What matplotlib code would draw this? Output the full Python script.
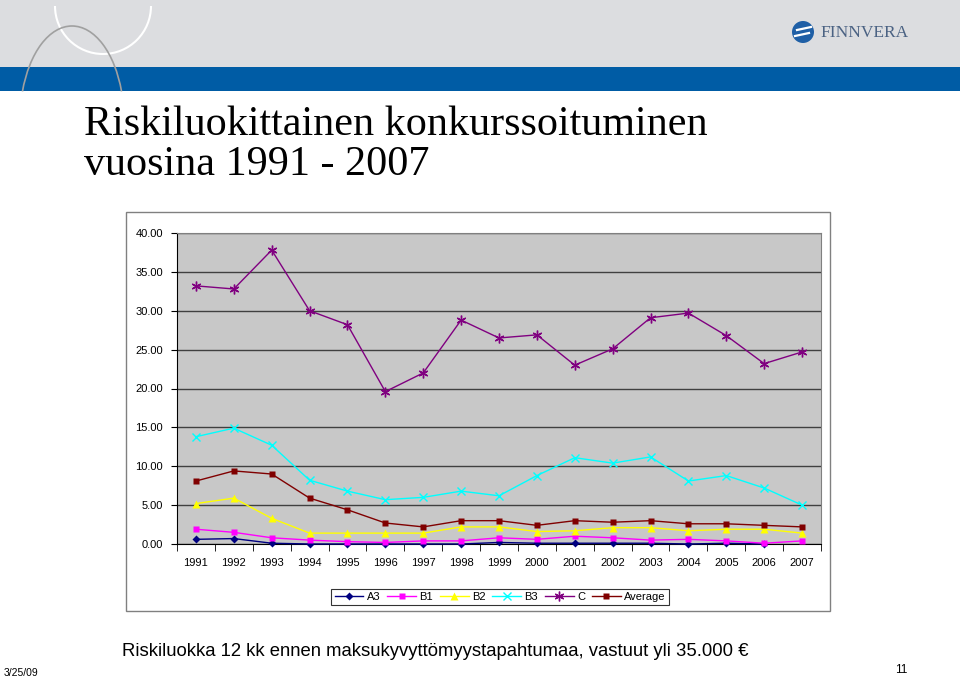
import matplotlib

matplotlib.use("Agg")
import matplotlib.pyplot as plt
import numpy as np
from matplotlib.patches import Arc, Circle, Rectangle

years = [str(y) for y in range(1991, 2008)]
a3 = [0.6, 0.7, 0.1, 0.0, 0.0, 0.0, 0.0, 0.0, 0.2, 0.1, 0.1, 0.1, 0.1, 0.0, 0.1, 0.0, np.nan]
b1 = [1.9, 1.5, 0.8, 0.5, 0.3, 0.2, 0.4, 0.4, 0.8, 0.6, 1.0, 0.8, 0.5, 0.6, 0.4, 0.1, 0.4]
b2 = [5.2, 5.9, 3.3, 1.4, 1.4, 1.4, 1.4, 2.2, 2.2, 1.6, 1.7, 2.1, 2.1, 1.7, 1.9, 1.9, 1.4]
b3 = [13.8, 14.9, 12.7, 8.2, 6.8, 5.7, 6.0, 6.8, 6.2, 8.8, 11.1, 10.4, 11.2, 8.1, 8.8, 7.2, 5.0]
c = [33.2, 32.8, 37.8, 30.0, 28.2, 19.6, 22.0, 28.8, 26.5, 26.9, 23.0, 25.1, 29.1, 29.7, 26.8, 23.2, 24.7]
average = [8.1, 9.4, 9.0, 5.9, 4.4, 2.7, 2.2, 3.0, 3.0, 2.4, 3.0, 2.8, 3.0, 2.6, 2.6, 2.4, 2.2]

W, H = 960, 678


def px(x0, y0, x1, y1):
    # pixel box (top-left origin) -> figure fraction rect
    return [x0 / W, 1 - y1 / H, (x1 - x0) / W, (y1 - y0) / H]


fig = plt.figure(figsize=(W / 100, H / 100), dpi=100)
fig.patch.set_facecolor("white")

# slide background, header band, logo, title, footer
hdr = fig.add_axes([0, 0, 1, 1], facecolor="none")
hdr.set_xlim(0, W)
hdr.set_ylim(H, 0)
hdr.axis("off")
hdr.add_patch(Rectangle((0, 0), W, 67, facecolor="#dcdde0", edgecolor="none", zorder=0))
hdr.add_patch(Rectangle((0, 67), W, 24, facecolor="#005ca5", edgecolor="none", zorder=0))
hdr.add_patch(Arc((103, 6), 96, 96, theta1=0, theta2=180, color="white", lw=1.5, zorder=1))
hdr.add_patch(Arc((72, 120), 104, 188, theta1=210, theta2=330, color="#a0a0a0", lw=1.2, zorder=1))
hdr.add_patch(Circle((803, 32), 11, facecolor="#1f5fa6", edgecolor="none", zorder=3))
hdr.plot([797, 811], [30, 27], color="white", lw=1.6, zorder=4)
hdr.plot([795, 809], [36, 33], color="white", lw=1.6, zorder=4)
hdr.text(820, 33, "FINNVERA", family="Liberation Serif", fontsize=12.5, color="#4b6283",
         va="center", ha="left", zorder=4)

hdr.text(84, 135, "Riskiluokittainen konkurssoituminen", family="Liberation Serif",
         fontsize=30.3, va="baseline", ha="left", color="black")
hdr.text(84, 175, "vuosina 1991 - 2007", family="Liberation Serif",
         fontsize=30.3, va="baseline", ha="left", color="black")

# chart frame
hdr.add_patch(Rectangle((126, 212), 704, 399, facecolor="white", edgecolor="#808080", lw=1))

hdr.text(122, 652, "Riskiluokka 12 kk ennen maksukyvyttömyystapahtumaa, vastuut yli 35.000 €",
         family="Liberation Sans", fontsize=13.3, va="center", ha="left")
hdr.text(4, 673, "3/25/09", family="Liberation Sans", fontsize=7.5, va="center", ha="left")
hdr.text(907, 670, "11", family="Liberation Sans", fontsize=8.5, va="center", ha="right")

ax = fig.add_axes(px(177, 233, 821, 544))
ax.set_facecolor("#c8c8c8")
x = np.arange(len(years))
series = [
    ("A3", a3, "#000080", "D", 4, False),
    ("B1", b1, "#ff00ff", "s", 5, False),
    ("B2", b2, "#ffff00", "^", 6, False),
    ("B3", b3, "#00ffff", "x", 6, True),
    ("C", c, "#800080", (6, 2, 0), 7, True),
    ("Average", average, "#800000", "s", 5, False),
]
for name, vals, col, mk, ms, edge in series:
    ax.plot(x, vals, color=col, lw=1, marker=mk, markersize=ms,
            markeredgecolor=col if edge else "none", markeredgewidth=1, label=name,
            clip_on=False, zorder=3)

ax.set_xlim(-0.5, len(years) - 0.5)
ax.set_ylim(0, 40)
ax.set_yticks(np.arange(0, 41, 5))
ax.set_yticklabels([f"{v:.2f}" for v in np.arange(0, 41, 5)])
ax.grid(axis="y", color="#404040", lw=1, zorder=1)
ax.set_axisbelow(True)
ax.set_xticks(x)
ax.set_xticklabels(years)
ax.set_xticks(np.arange(-0.5, len(years)), minor=True)
ax.tick_params(axis="x", which="major", length=0, pad=10, labelsize=8)
ax.tick_params(axis="x", which="minor", length=5, color="black")
ax.tick_params(axis="y", length=4, labelsize=8, pad=6)
for lbl in ax.get_xticklabels() + ax.get_yticklabels():
    lbl.set_family("Liberation Sans")
for side in ["top", "right"]:
    ax.spines[side].set_color("#808080")
ax.spines["left"].set_color("black")
ax.spines["bottom"].set_color("black")

leg = fig.legend(loc="center", bbox_to_anchor=((334 + 666) / 2 / W, 1 - 597 / H), ncol=6,
                 frameon=True, fancybox=False, edgecolor="black",
                 handlelength=2.6, handletextpad=0.3, columnspacing=0.6, borderpad=0.3,
                 prop={"family": "Liberation Sans", "size": 8})
leg.get_frame().set_linewidth(0.8)

fig.savefig("out.png", dpi=100)
